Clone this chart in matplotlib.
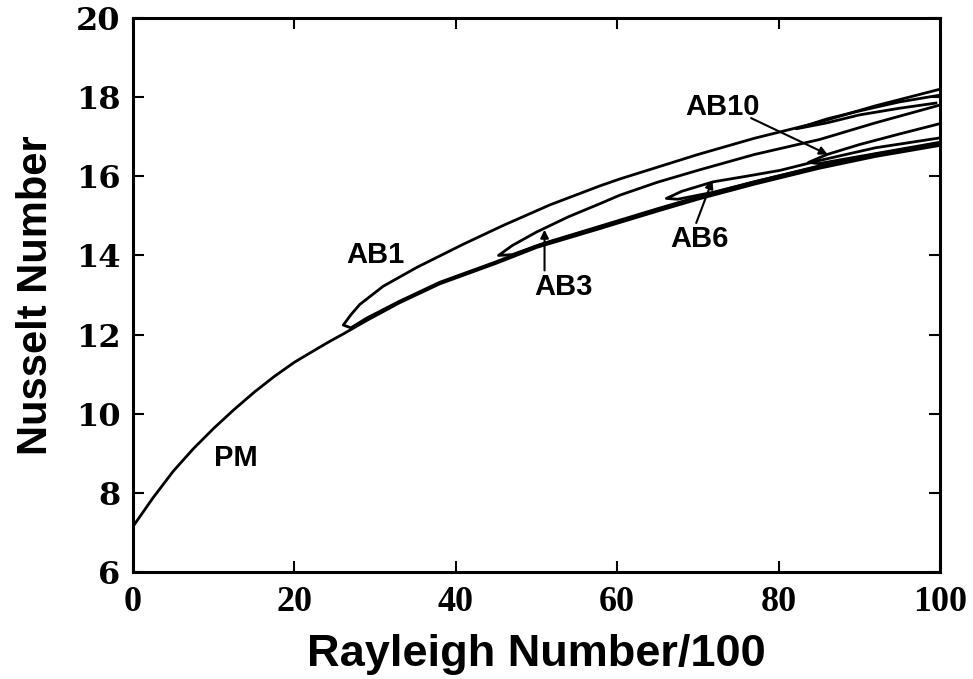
import matplotlib
matplotlib.use("Agg")
import matplotlib.pyplot as plt
import numpy as np

# primary mode branch (PM)
pm_x = [0, 2.5, 5, 7.5, 10, 12.5, 15, 17.5, 20, 22.8, 24.4, 26.1, 29, 33, 38, 45, 50, 57.9, 60.3, 65, 70, 77, 85, 92, 100]
pm_y = [7.15, 7.88, 8.55, 9.12, 9.63, 10.1, 10.54, 10.94, 11.3, 11.64, 11.83, 12.02, 12.36, 12.8, 13.28, 13.8, 14.2, 14.68, 14.83, 15.12, 15.42, 15.8, 16.2, 16.5, 16.78]

# asymmetric branches: tip point, then upper and lower arms out to Ra/100 = 100
ab1_up_x = [26.06, 27, 28.1, 31.0, 35.2, 40.9, 45.9, 51.7, 57.9, 60.3, 70, 77, 85.1, 92, 100]
ab1_up_y = [12.24, 12.5, 12.76, 13.22, 13.7, 14.28, 14.76, 15.28, 15.76, 15.93, 16.55, 16.96, 17.37, 17.78, 18.2]
ab1_lo_x = [26.06, 27, 29, 33, 38, 45, 50, 57.9, 65, 70, 77, 85, 92, 100]
ab1_lo_y = [12.24, 12.17, 12.42, 12.84, 13.32, 13.84, 14.24, 14.72, 15.16, 15.46, 15.84, 16.24, 16.54, 16.82]

ab3_up_x = [45.3, 47, 50, 54, 57.9, 60.3, 65, 70, 77, 85.1, 92, 100]
ab3_up_y = [14.0, 14.25, 14.59, 14.98, 15.31, 15.52, 15.85, 16.15, 16.55, 16.93, 17.35, 17.8]
ab3_lo_x = [45.3, 47, 50.8, 57.9, 65, 70, 77, 85, 92, 100]
ab3_lo_y = [14.0, 14.02, 14.3, 14.74, 15.18, 15.48, 15.86, 16.26, 16.56, 16.84]

ab6_up_x = [66.1, 68, 71.9, 76, 80.2, 85.1, 92, 100]
ab6_up_y = [15.44, 15.62, 15.86, 16.0, 16.15, 16.4, 16.72, 16.97]
ab6_lo_x = [66.1, 67.5, 72, 77, 85, 92, 100]
ab6_lo_y = [15.44, 15.42, 15.6, 15.86, 16.25, 16.55, 16.83]

ab10_up_x = [83.7, 86, 90, 95, 100]
ab10_up_y = [16.35, 16.55, 16.8, 17.07, 17.33]
ab10_lo_x = [83.7, 85, 90, 95, 100]
ab10_lo_y = [16.35, 16.32, 16.5, 16.68, 16.86]

abx_up_x = [82.2, 86, 90, 95, 100]
abx_up_y = [17.2, 17.45, 17.65, 17.88, 18.05]
abx_lo_x = [82.2, 86, 90, 95, 99.5]
abx_lo_y = [17.2, 17.35, 17.55, 17.72, 17.85]

branches = [
    (ab1_up_x, ab1_up_y, ab1_lo_x, ab1_lo_y),
    (ab3_up_x, ab3_up_y, ab3_lo_x, ab3_lo_y),
    (ab6_up_x, ab6_up_y, ab6_lo_x, ab6_lo_y),
    (ab10_up_x, ab10_up_y, ab10_lo_x, ab10_lo_y),
    (abx_up_x, abx_up_y, abx_lo_x, abx_lo_y),
]

# labels: (text, text x, text y, arrow start, arrow tip)
labels = [
    ("PM", 12.8, 8.87, None, None),
    ("AB1", 30.0, 14.02, None, None),
    ("AB3", 53.4, 13.21, (51.0, 13.62), (51.0, 14.65)),
    ("AB6", 70.2, 14.42, (69.8, 14.82), (71.8, 15.9)),
    ("AB10", 73.1, 17.75, (76.6, 17.47), (86.1, 16.55)),
]

xticks = [0, 20, 40, 60, 80, 100]
yticks = [6, 8, 10, 12, 14, 16, 18, 20]

fig = plt.figure(figsize=(9.73, 6.79), dpi=100)
ax = fig.add_axes([0.1367, 0.1576, 0.8293, 0.8159])

lw = 2.0
ax.plot(pm_x, pm_y, color="black", lw=lw, solid_joinstyle="round")
for ux, uy, lx, ly in branches:
    xs = list(reversed(lx)) + ux[1:]
    ys = list(reversed(ly)) + uy[1:]
    ax.plot(xs, ys, color="black", lw=lw, solid_joinstyle="round")

for txt, tx, ty, start, tip in labels:
    ax.text(tx, ty, txt, ha="center", va="center", fontsize=21,
            fontweight="bold", family="Liberation Sans")
    if tip is not None:
        ax.annotate("", xy=tip, xytext=start,
                    arrowprops=dict(arrowstyle="-|>", color="black", lw=1.5,
                                    mutation_scale=12, shrinkA=0, shrinkB=0))

ax.set_xlim(0, 100)
ax.set_ylim(6, 20)
ax.set_xticks(xticks)
ax.set_yticks(yticks)
ax.tick_params(direction="in", length=8, width=1.5, top=True, right=True)
ax.tick_params(axis="y", pad=9)
ax.tick_params(axis="x", pad=10)
for lab in ax.get_xticklabels():
    lab.set_family("Liberation Serif")
    lab.set_fontweight("bold")
    lab.set_fontsize(26)
for lab in ax.get_yticklabels():
    lab.set_family("DejaVu Serif")
    lab.set_fontweight("bold")
    lab.set_fontsize(23)
for sp in ax.spines.values():
    sp.set_linewidth(2.2)

ax.set_xlabel("Rayleigh Number/100", fontsize=32.5, fontweight="bold",
              family="Liberation Sans", labelpad=11)
ax.set_ylabel("Nusselt Number", fontsize=30, fontweight="bold",
              family="Liberation Sans", labelpad=14)

fig.savefig("out.png", dpi=100)
